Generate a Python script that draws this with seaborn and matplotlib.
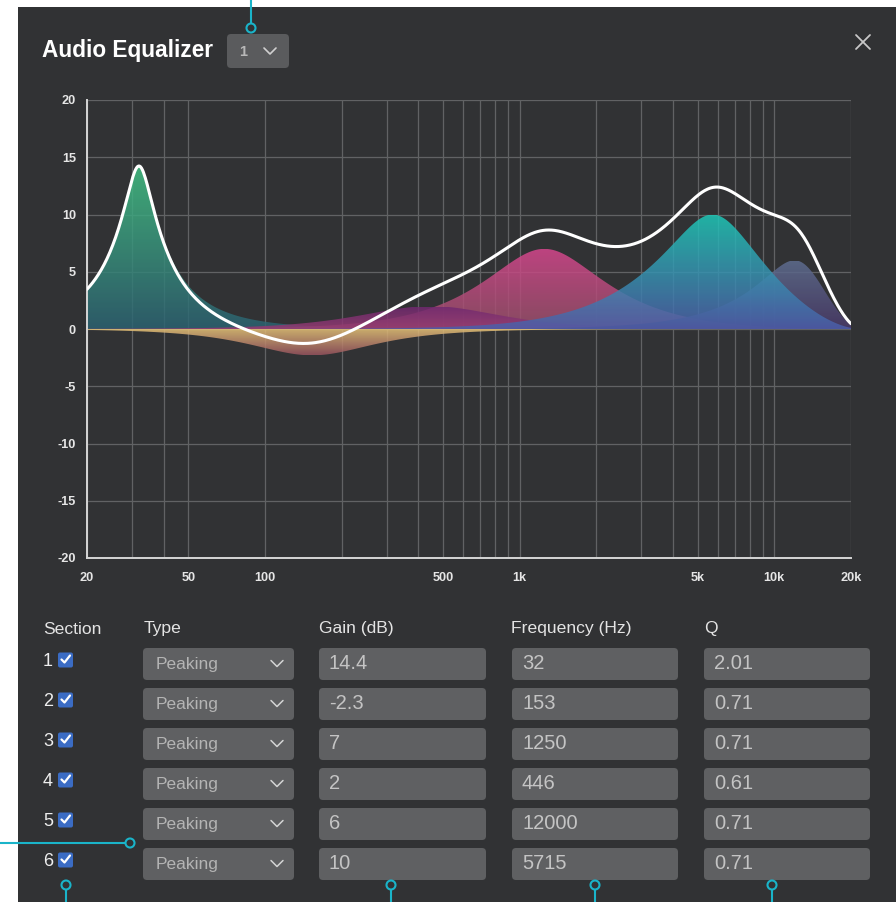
import numpy as np
import pandas as pd
import seaborn as sns
import matplotlib.pyplot as plt
from matplotlib.colors import LinearSegmentedColormap
from matplotlib.patches import FancyBboxPatch, Rectangle, Circle
from matplotlib.ticker import NullFormatter

# Filter sections
sections = ["1", "2", "3", "4", "5", "6"]
filter_types = ["Peaking", "Peaking", "Peaking", "Peaking", "Peaking", "Peaking"]
gains = [14.4, -2.3, 7, 2, 6, 10]
freqs = [32, 153, 1250, 446, 12000, 5715]
qs = [2.01, 0.71, 0.71, 0.61, 0.71, 0.71]
gain_labels = ["14.4", "-2.3", "7", "2", "6", "10"]
freq_labels = ["32", "153", "1250", "446", "12000", "5715"]
q_labels = ["2.01", "0.71", "0.71", "0.61", "0.71", "0.71"]

# fill colour of each section: at its peak / at 0 dB
peak_colors = ["#44c585", "#9a5560", "#d9478f", "#6e2870", "#607092", "#1ecbb9"]
base_colors = ["#2c6272", "#eac878", "#98506a", "#963c72", "#4a3a6a", "#4c5eaa"]

x_ticks = [20, 50, 100, 500, 1000, 5000, 10000, 20000]
x_tick_labels = ["20", "50", "100", "500", "1k", "5k", "10k", "20k"]
grid_freqs = [30, 40, 200, 300, 400, 600, 700, 800, 900,
              2000, 3000, 4000, 6000, 7000, 8000, 9000]
y_ticks = [-20, -15, -10, -5, 0, 5, 10, 15, 20]

SAMPLE_RATE = 44100
BG = "#313234"
CYAN = "#1ab4c9"
BOX = "#5f6062"
W, H = 896, 902


# magnitude (dB) of a peaking biquad at the frequencies f
def peaking_db(f, f0, gain, q):
    A = 10 ** (gain / 40)
    w0 = 2 * np.pi * f0 / SAMPLE_RATE
    alpha = np.sin(w0) / (2 * q)
    cw = np.cos(w0)
    b = [1 + alpha * A, -2 * cw, 1 - alpha * A]
    a = [1 + alpha / A, -2 * cw, 1 - alpha / A]
    z = np.exp(-1j * 2 * np.pi * f / SAMPLE_RATE)
    h = (b[0] + b[1] * z + b[2] * z ** 2) / (a[0] + a[1] * z + a[2] * z ** 2)
    return 20 * np.log10(np.abs(h))


def main():
    sns.set_theme(style="dark")
    plt.rcParams["font.family"] = ["Liberation Sans", "DejaVu Sans"]

    fig = plt.figure(figsize=(W / 100, H / 100), dpi=100)
    fig.patch.set_facecolor("white")

    # background layer in pixel coordinates
    bg = fig.add_axes([0, 0, 1, 1], zorder=0)
    bg.set_xlim(0, W)
    bg.set_ylim(H, 0)
    bg.axis("off")
    bg.add_patch(Rectangle((18, 7), W - 18, H - 7, color=BG, lw=0))

    # header
    bg.text(42, 51, "Audio Equalizer", color="white", fontsize=16.3,
            fontweight="bold", va="center")
    bg.add_patch(FancyBboxPatch((227, 34), 62, 34, boxstyle="round,pad=0,rounding_size=4",
                                fc="#5a5b5d", ec="none"))
    bg.text(239, 51.5, "1", color="#b8b8b8", fontsize=10.5, fontweight="bold", va="center")
    bg.plot([264, 270, 276], [48, 54, 48], color="#d0d0d0", lw=1.2)
    bg.plot([856, 870], [35, 49], color="#c8c8c8", lw=1.3)
    bg.plot([856, 870], [49, 35], color="#c8c8c8", lw=1.3)

    # table
    header_y = 629
    for x, s in zip([43, 144, 319, 511, 704],
                    ["Section", "Type", "Gain (dB)", "Frequency (Hz)", "Q"]):
        bg.text(x, header_y, s, color="#e4e4e4", fontsize=12.6, va="center")

    for i, sec in enumerate(sections):
        top = 648 + 40 * i
        cy = top + 15.5
        bg.text(43, cy - 2, sec, color="#eeeeee", fontsize=13, va="center")
        bg.add_patch(FancyBboxPatch((58, cy - 11), 15, 15, boxstyle="round,pad=0,rounding_size=2",
                                    fc="#3b6cc4", ec="none"))
        bg.plot([61.5, 64.5, 70], [cy - 4, cy - 1, cy - 8], color="white", lw=1.6,
                solid_capstyle="round", solid_joinstyle="round")
        # type dropdown
        bg.add_patch(FancyBboxPatch((143, top), 151, 32, boxstyle="round,pad=0,rounding_size=4",
                                    fc=BOX, ec="none"))
        bg.text(156, cy + 1, filter_types[i], color="#b4b4b4", fontsize=12.5, va="center")
        bg.plot([271, 277, 283], [cy - 3, cy + 3, cy - 3], color="#d4d4d4", lw=1.1)
        # input boxes
        for x0, w, s in [(319, 167, gain_labels[i]), (512, 166, freq_labels[i]),
                         (704, 166, q_labels[i])]:
            bg.add_patch(FancyBboxPatch((x0, top), w, 32, boxstyle="round,pad=0,rounding_size=4",
                                        fc=BOX, ec="none"))
            bg.text(x0 + 10, cy, s, color="#c4c4c4", fontsize=14.5, va="center")

    # cyan callouts
    def callout(x1, y1, x2, y2, cx, cy):
        bg.plot([x1, x2], [y1, y2], color=CYAN, lw=1.5, zorder=3)
        bg.add_patch(Circle((cx, cy), 4.5, fc=BG, ec=CYAN, lw=1.5, zorder=4))

    callout(251, 0, 251, 24, 251, 28)
    callout(0, 843, 125, 843, 130, 843)
    for cx in [66, 391, 595, 772]:
        callout(cx, 889, cx, H, cx, 885)

    # chart
    ax = fig.add_axes([87 / W, 1 - 558 / H, 764 / W, 458 / H], zorder=1)
    ax.set_facecolor("none")
    ax.set_xscale("log")

    f = np.geomspace(20, 20000, 800)
    total = np.zeros_like(f)
    for i in range(len(sections)):
        resp = peaking_db(f, freqs[i], gains[i], qs[i])
        total += resp
        poly = ax.fill_between(f, 0, resp, facecolor="none", edgecolor="none")
        cmap = LinearSegmentedColormap.from_list("sec%d" % i, [base_colors[i], peak_colors[i]])
        g = gains[i]
        if g >= 0:
            grad = np.linspace(0, 1, 256).reshape(-1, 1)
            ext = (20, 20000, 0, g)
        else:
            grad = np.linspace(1, 0, 256).reshape(-1, 1)
            ext = (20, 20000, g, 0)
        im = ax.imshow(grad, cmap=cmap, extent=ext, origin="lower", aspect="auto",
                       alpha=0.84, zorder=2 + i * 0.01, interpolation="bilinear")
        im.set_clip_path(poly.get_paths()[0], transform=ax.transData)

    df = pd.DataFrame({"freq": f, "gain": total})
    sns.lineplot(data=df, x="freq", y="gain", ax=ax, color="white", lw=2.2, zorder=5)

    ax.set_xlim(20, 20000)
    ax.set_ylim(-20, 20)
    ax.set_xticks(x_ticks, x_tick_labels)
    ax.set_xticks(grid_freqs, minor=True)
    ax.xaxis.set_minor_formatter(NullFormatter())
    ax.set_yticks(y_ticks, [str(v) for v in y_ticks])
    ax.grid(which="both", axis="x", color="#616264", lw=0.9)
    ax.grid(axis="y", color="#616264", lw=0.9)
    ax.tick_params(which="minor", length=0)
    ax.tick_params(which="major", length=6, width=1.2, color="#d6d6d6",
                   labelcolor="#e6e6e6", labelsize=9.2, pad=2)
    ax.tick_params(axis="x", pad=4)
    for lab in ax.get_xticklabels() + ax.get_yticklabels():
        lab.set_fontweight("bold")
    for side in ["top", "right"]:
        ax.spines[side].set_visible(False)
    for side in ["left", "bottom"]:
        ax.spines[side].set_color("#d6d6d6")
        ax.spines[side].set_linewidth(1.4)
    ax.set_xlabel("")
    ax.set_ylabel("")

    fig.savefig("out.png", dpi=100, facecolor="white")


if __name__ == "__main__":
    main()
